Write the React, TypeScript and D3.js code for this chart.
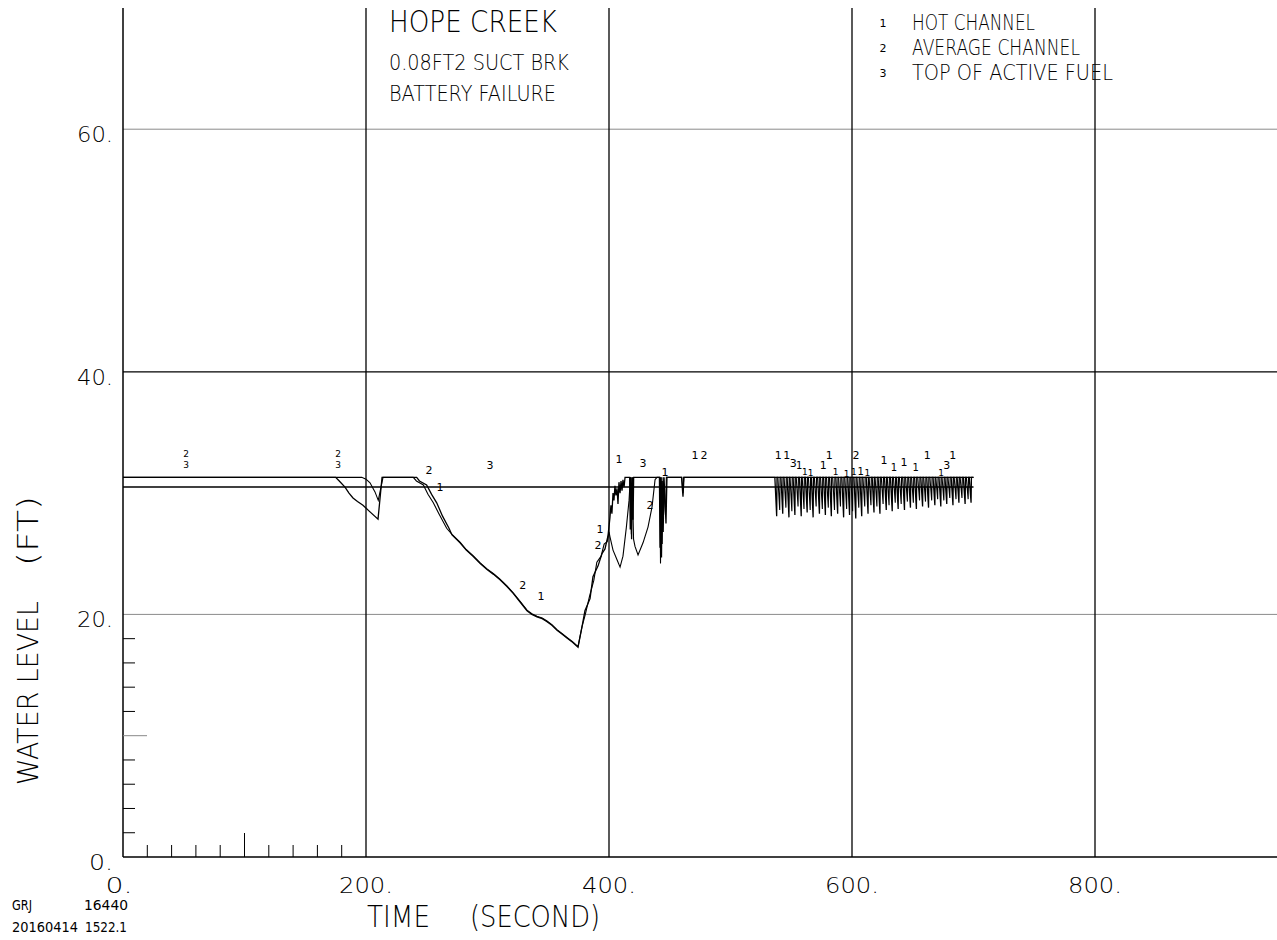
import React from 'react';
import * as d3 from 'd3';

// Plot geometry
const WIDTH = 1277;
const HEIGHT = 940;
const X_DOMAIN: [number, number] = [0, 950];
const Y_DOMAIN: [number, number] = [0, 70];

// Axes
const xTicks = [0, 200, 400, 600, 800];
const xTickLabels = ['0.', '200.', '400.', '600.', '800.'];
const yTicks = [0, 20, 40, 60];
const yTickLabels = ['0.', '20.', '40.', '60.'];
const xMinorTicks = [20, 40, 60, 80, 100, 120, 140, 160, 180];
const yMinorTicks = [2, 4, 6, 8, 10, 12, 14, 16, 18];
const darkGrid = [40];
const lightGrid = [20, 60];

// Levels (ft)
const TAF_LEVEL = 30.5;
const NORMAL_LEVEL = 31.3;
const END_TIME = 700;

// Hot channel collapsed level (time s, level ft)
const hotChannel: [number, number][] = [
  [0, 31.3], [175, 31.3], [178, 31.0], [182.7, 30.5], [186, 30.0], [189.3, 29.6],
  [193, 29.3], [197.5, 29.0], [203.3, 28.45], [209.9, 27.85], [213.2, 31.3],
  [241.7, 31.3], [244, 31.0], [249.9, 30.67], [254, 29.9], [258.2, 29.2],
  [263, 28.1], [268.3, 27.1], [270.8, 26.55], [277.4, 25.9], [282.5, 25.3],
  [288.1, 24.8], [294, 24.2], [299.6, 23.7], [305, 23.3], [310.3, 22.85],
  [316, 22.3], [321.0, 21.75], [327, 21.0], [332.5, 20.3], [336.5, 20.0],
  [340.7, 19.8], [345, 19.65], [349.0, 19.4], [353, 19.1], [357.2, 18.7],
  [361, 18.4], [365.4, 18.05], [370, 17.7], [374.5, 17.3], [377.8, 19.0],
  [380.2, 20.3], [384.4, 21.3], [386.8, 23.1], [391.0, 24.0], [394.2, 25.0],
  [396.7, 25.4], [399.2, 26.5], [400.8, 28.0], [401.6, 29.0], [402.4, 28.3],
  [403.3, 30.0], [404.1, 29.4], [404.9, 30.6], [405.7, 29.8], [406.6, 30.4],
  [407.4, 29.1], [408.2, 30.9], [409.1, 30.0], [409.9, 31.0], [410.7, 30.2],
  [411.5, 31.1], [412.4, 30.5], [413.2, 31.3], [417.0, 31.3], [417.5, 27.0],
  [418.0, 31.3], [418.6, 26.2], [419.2, 31.3], [419.8, 27.8], [420.3, 31.3],
  [441.5, 31.3], [442.0, 25.5], [442.6, 31.3], [443.2, 24.7], [443.8, 31.0],
  [444.6, 26.8], [445.3, 31.3], [446.9, 27.5], [447.7, 31.3], [459.7, 31.3],
  [460.9, 29.7], [461.7, 31.3], [536, 31.3],
];

// Average channel collapsed level (time s, level ft)
const averageChannel: [number, number][] = [
  [0, 31.3], [196.5, 31.3], [200, 31.15], [203.3, 30.85], [207.4, 30.1],
  [210.1, 29.4], [214.0, 31.3], [238.9, 31.3], [241.5, 31.0], [247.2, 30.67],
  [251, 29.9], [255.4, 29.2], [260, 28.3], [266.4, 27.1], [270.8, 26.6],
  [277.4, 25.95], [282.5, 25.35], [288.1, 24.85], [294, 24.25], [299.6, 23.75],
  [305, 23.35], [310.3, 22.9], [316, 22.35], [321.0, 21.8], [327, 21.05],
  [332.5, 20.35], [336.5, 20.05], [340.7, 19.85], [345, 19.7], [349.0, 19.45],
  [353, 19.15], [357.2, 18.75], [361, 18.45], [365.4, 18.1], [370, 17.75],
  [374.5, 17.35], [377.8, 19.0], [380.5, 20.0], [384.0, 21.5], [387.5, 22.8],
  [390.0, 24.3], [393.5, 24.8], [396.0, 25.8], [398.5, 26.0], [400.0, 26.8],
  [400.8, 26.4], [403.3, 25.3], [406.6, 24.5], [409.1, 23.9], [411.5, 24.8],
  [414.3, 27.2], [416.5, 29.4], [417.6, 31.3], [418.4, 26.6], [419.1, 31.3],
  [420.2, 26.2], [421.4, 25.6], [423.9, 24.9], [428.0, 25.9], [432.1, 27.2],
  [435.4, 28.85], [437.9, 31.1], [439.5, 31.3], [441.8, 31.3], [442.4, 24.2],
  [443.0, 31.3], [443.8, 25.8], [444.5, 31.3], [446.5, 28.2], [447.2, 31.3],
  [459.9, 31.3], [460.9, 30.0], [461.5, 31.3], [538.5, 31.3],
];

// Level oscillation troughs after 537 s (time s, level ft)
const hotTroughs: [number, number][] = [
  [538.0, 28.1], [543.0, 28.3], [548.1, 28.0], [553.0, 28.2], [558.2, 28.1],
  [563.1, 28.4], [568.0, 28.0], [573.2, 28.3], [578.1, 28.2], [583.0, 28.1],
  [588.2, 28.3], [593.1, 28.0], [598.0, 28.2], [603.1, 27.9], [608.0, 28.1],
  [613.2, 28.3], [618.1, 28.4], [623.0, 28.3], [628.2, 28.6], [633.1, 28.5],
  [638.0, 28.7], [643.2, 28.6], [648.1, 28.8], [653.0, 28.7], [658.1, 28.9],
  [663.0, 28.8], [668.2, 29.0], [673.1, 28.9], [678.0, 29.1], [683.1, 29.0],
  [688.0, 29.2], [693.1, 29.1], [698.0, 29.2],
];
const averageTroughs: [number, number][] = [
  [540.5, 28.6], [545.6, 28.8], [550.5, 28.5], [555.6, 28.9], [560.5, 28.7],
  [565.6, 28.6], [570.5, 28.9], [575.6, 28.7], [580.5, 28.8], [585.6, 28.6],
  [590.5, 28.9], [595.6, 28.7], [600.5, 28.5], [605.6, 28.8], [610.5, 28.9],
  [615.6, 29.0], [620.5, 28.9], [625.6, 29.1], [630.5, 29.0], [635.6, 29.2],
  [640.5, 29.1], [645.6, 29.3], [650.5, 29.2], [655.6, 29.4], [660.5, 29.3],
  [665.6, 29.4], [670.5, 29.5], [675.6, 29.4], [680.5, 29.6], [685.6, 29.5],
  [690.5, 29.6], [695.6, 29.5],
];

// Curve identification symbols (time s, level ft, symbol, size)
const curveMarkers: [number, number, string, number][] = [
  [51.9, 33.2, '2', 9], [51.9, 32.35, '3', 9], [177, 33.2, '2', 9], [177, 32.35, '3', 9],
  [251.9, 31.86, '2', 11], [260.9, 30.46, '1', 11], [302, 32.3, '3', 11],
  [329, 22.4, '2', 11], [344, 21.5, '1', 11], [392.6, 27.0, '1', 11], [391, 25.7, '2', 11],
  [408.2, 32.8, '1', 11], [428, 32.4, '3', 11], [433.7, 29.0, '2', 11], [446, 31.7, '1', 11],
  [470.8, 33.06, '1', 11], [478.2, 33.06, '2', 11],
  [539.3, 33.14, '1', 11], [546.3, 33.06, '1', 11], [551.7, 32.4, '3', 11], [556.6, 32.3, '1', 10],
  [561.3, 31.76, '1', 9], [566.0, 31.63, '1', 9], [576.4, 32.3, '1', 11], [581.3, 33.14, '1', 11],
  [586.6, 31.7, '1', 9], [595.6, 31.55, '1', 9], [603.3, 33.14, '2', 11], [601.6, 31.76, '1', 9],
  [607.2, 31.76, '1', 10], [612.6, 31.63, '1', 9], [626.3, 32.7, '1', 11], [634.6, 32.1, '1', 10],
  [642.8, 32.5, '1', 11], [652.4, 32.1, '1', 10], [662.0, 33.14, '1', 11], [677.9, 32.3, '3', 11],
  [682.9, 33.14, '1', 11], [673.3, 31.63, '1', 9],
];

const legendItems = [
  { sym: '1', label: 'HOT CHANNEL', len: 123 },
  { sym: '2', label: 'AVERAGE CHANNEL', len: 168 },
  { sym: '3', label: 'TOP OF ACTIVE FUEL', len: 201 },
];

const titleLines = [
  { text: 'HOPE CREEK', size: 30, baseline: 32, len: 168 },
  { text: '0.08FT2 SUCT BRK', size: 21, baseline: 70, len: 180 },
  { text: 'BATTERY FAILURE', size: 21, baseline: 101, len: 167 },
];

const FONT = '"DejaVu Sans", "Liberation Sans", sans-serif';

// Append the sawtooth level swings (slow drop, fast recovery) to a curve
function withOscillation(base: [number, number][], troughs: [number, number][]) {
  const pts: [number, number][] = base.slice();
  troughs.forEach(([t, h]) => {
    pts.push([t - 1.5, NORMAL_LEVEL], [t, h], [t + 0.3, NORMAL_LEVEL]);
  });
  pts.push([END_TIME, NORMAL_LEVEL]);
  return pts;
}

export default function App() {
  const x = d3.scaleLinear().domain(X_DOMAIN).range([123, 123 + 950 * 1.215]);
  const y = d3.scaleLinear().domain(Y_DOMAIN).range([857, 857 - 70 * 12.13]);
  const line = d3.line<[number, number]>().x((d) => x(d[0])).y((d) => y(d[1]));

  const hot = withOscillation(hotChannel, hotTroughs);
  const avg = withOscillation(averageChannel, averageTroughs);
  const taf: [number, number][] = [[0, TAF_LEVEL], [END_TIME, TAF_LEVEL]];

  const [x0, x1] = x.range();
  const [y0, y1] = y.range();

  return (
    <svg
      width={WIDTH}
      height={HEIGHT}
      style={{ position: 'absolute', left: 0, top: 0, background: '#fff' }}
      fontFamily={FONT}
      fontWeight={200}
    >
      <rect width={WIDTH} height={HEIGHT} fill="#fff" />

      {/* grid */}
      {lightGrid.map((v) => (
        <line key={'lg' + v} x1={x0} x2={x1} y1={y(v)} y2={y(v)} stroke="#8a8a8a" strokeWidth={1} />
      ))}
      {darkGrid.map((v) => (
        <line key={'dg' + v} x1={x0} x2={x1} y1={y(v)} y2={y(v)} stroke="#000" strokeWidth={1.3} />
      ))}
      {xTicks.filter((t) => t > 0).map((t) => (
        <line key={'vg' + t} x1={x(t)} x2={x(t)} y1={y0} y2={y1} stroke="#000" strokeWidth={1.3} />
      ))}

      {/* axes */}
      <line x1={x0} x2={x0} y1={y0} y2={y1} stroke="#000" strokeWidth={1.5} />
      <line x1={x0} x2={x1} y1={y0} y2={y0} stroke="#000" strokeWidth={1.5} />

      {/* minor ticks */}
      {xMinorTicks.map((t) => (
        <line key={'xm' + t} x1={x(t)} x2={x(t)} y1={y0} y2={y0 - (t === 100 ? 24 : 12)} stroke="#000" strokeWidth={1} />
      ))}
      {yMinorTicks.map((v) => (
        <line key={'ym' + v} x1={x0} x2={x0 + (v === 10 ? 24 : 12)} y1={y(v)} y2={y(v)} stroke={v === 10 ? '#888' : '#000'} strokeWidth={1} />
      ))}

      {/* tick labels */}
      {xTicks.map((t, i) => (
        <text key={'xl' + t} x={x(t) - (t === 0 ? 4 : 0)} y={893} fontSize={21} textAnchor="middle"
          textLength={xTickLabels[i].length * 13.5} lengthAdjust="spacingAndGlyphs">
          {xTickLabels[i]}
        </text>
      ))}
      {yTicks.map((v, i) => (
        <text key={'yl' + v} x={113} y={y(v) + 13} fontSize={21} textAnchor="end"
          textLength={yTickLabels[i].length * 12} lengthAdjust="spacingAndGlyphs">
          {yTickLabels[i]}
        </text>
      ))}

      {/* axis titles */}
      <text x={367} y={927} fontSize={30} textLength={63} lengthAdjust="spacingAndGlyphs">TIME</text>
      <text x={470} y={927} fontSize={30} textLength={130} lengthAdjust="spacingAndGlyphs">(SECOND)</text>
      <text transform="translate(38,785) rotate(-90)" fontSize={29} textLength={184} lengthAdjust="spacingAndGlyphs">WATER LEVEL</text>
      <text transform="translate(38,566) rotate(-90)" fontSize={29} textLength={70} lengthAdjust="spacingAndGlyphs">(FT)</text>

      {/* curves */}
      <path d={line(taf) ?? ''} fill="none" stroke="#000" strokeWidth={1.6} />
      <path d={line(avg) ?? ''} fill="none" stroke="#000" strokeWidth={1.1} />
      <path d={line(hot) ?? ''} fill="none" stroke="#000" strokeWidth={1.3} />

      {/* curve symbols */}
      {curveMarkers.map(([t, h, s, size], i) => (
        <text key={'cm' + i} x={x(t)} y={y(h)} fontSize={size} textAnchor="middle" dominantBaseline="central" fontWeight={400}>
          {s}
        </text>
      ))}

      {/* title block */}
      {titleLines.map((l) => (
        <text key={l.text} x={389} y={l.baseline} fontSize={l.size} textLength={l.len} lengthAdjust="spacingAndGlyphs">
          {l.text}
        </text>
      ))}

      {/* legend */}
      {legendItems.map((it, i) => (
        <g key={it.sym}>
          <text x={883} y={27 + i * 25} fontSize={11} textAnchor="middle" fontWeight={400}>{it.sym}</text>
          <text x={912} y={30 + i * 25} fontSize={22} textLength={it.len} lengthAdjust="spacingAndGlyphs">{it.label}</text>
        </g>
      ))}

      {/* plot stamp */}
      <g fontSize={14} fontWeight={400}>
        <text x={12} y={910} textLength={20} lengthAdjust="spacingAndGlyphs">GRJ</text>
        <text x={84} y={910} textLength={44} lengthAdjust="spacingAndGlyphs">16440</text>
        <text x={12} y={932} textLength={66} lengthAdjust="spacingAndGlyphs">20160414</text>
        <text x={85} y={932} textLength={42} lengthAdjust="spacingAndGlyphs">1522.1</text>
      </g>
    </svg>
  );
}
